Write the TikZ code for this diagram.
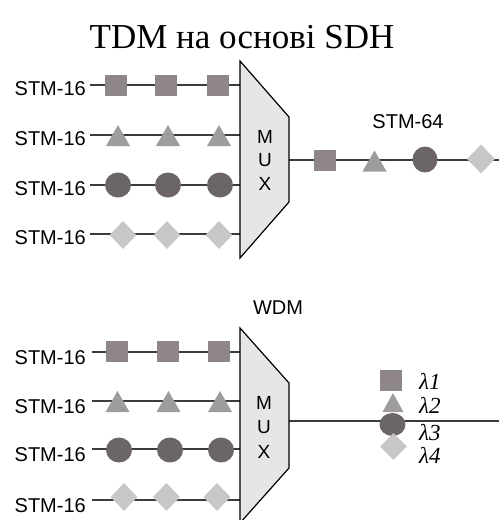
\documentclass[tikz,border=0pt]{standalone}
\usepackage{fontspec}
\setmainfont{Liberation Serif}
\newfontfamily\arialf{Liberation Sans}
\usetikzlibrary{shapes.geometric}
\definecolor{sqc}{HTML}{8E8689}
\definecolor{trc}{HTML}{9E9C9C}
\definecolor{cic}{HTML}{6C6568}
\definecolor{dic}{HTML}{C8C6C6}
\definecolor{muxc}{HTML}{E6E6E6}
\definecolor{linec}{HTML}{3C3C3C}
\begin{document}
\begin{tikzpicture}[x=1pt,y=-1pt,
  lab/.style={font=\arialf\fontsize{20}{24}\selectfont, inner sep=0, anchor=base east},
  sig/.style={draw=linec, line width=1.1pt},
  sq/.style={rectangle, fill=sqc, minimum width=22pt, minimum height=21pt, inner sep=0},
  trishape/.pic={\fill[trc] (-12,10.5) -- (12,10.5) -- (0,-10.5) -- cycle;},
  trismall/.pic={\fill[trc] (-10.5,9.5) -- (10.5,9.5) -- (0,-9.5) -- cycle;},
  cir/.style={ellipse, fill=cic, minimum width=26pt, minimum height=25pt, inner sep=0},
  dia/.style={diamond, fill=dic, minimum width=27pt, minimum height=28pt, inner sep=0},
  mux/.style={draw=black, fill=muxc, line width=1.2pt, line join=miter},
  muxt/.style={font=\arialf\fontsize{19}{22}\selectfont, inner sep=0},
  lam/.style={font=\itshape\fontsize{23}{26}\selectfont, inner sep=0, anchor=base west}]
\useasboundingbox (0,0) rectangle (499,520);

% title
\node[font=\fontsize{35}{40}\selectfont, inner sep=0, anchor=base] (title) at (242,48) {TDM на основі SDH};

% ---------------- TDM ----------------
\coordinate (t1a) at (240,61);
\coordinate (t1b) at (289,117);
\coordinate (t1c) at (289,202);
\coordinate (t1d) at (240,258);
\foreach \i/\y in {1/85,2/135,3/185,4/234}{
  \coordinate (ti\i) at (240,\y);
  \node[lab] (ta\i) at (86,\y+10) {STM-16};
  \draw[sig] ([xshift=4pt]ta\i.east |- ti\i) -- (ti\i);
}
\coordinate (to) at (289,160);
\coordinate (toe) at (499,160);
\draw[sig] (to) -- (toe);
\draw[mux] (t1a) -- (t1b) -- (t1c) -- (t1d) -- cycle;
\node[muxt] (tm) at (265,137) {M};
\node[muxt] (tu) at (265,160) {U};
\node[muxt] (tx) at (265,184) {X};

\node[sq] (ts1) at (116,85) {};
\node[sq] (ts2) at (166,85) {};
\node[sq] (ts3) at (218,85) {};
\coordinate (tt1) at (118,135.5);
\coordinate (tt2) at (168,135.5);
\coordinate (tt3) at (219,135.5);
\pic at (tt1) {trishape};
\pic at (tt2) {trishape};
\pic at (tt3) {trishape};
\node[cir] (tc1) at (118,185) {};
\node[cir] (tc2) at (168,185) {};
\node[cir] (tc3) at (220,185) {};
\node[dia] (td1) at (123,235) {};
\node[dia] (td2) at (167,235) {};
\node[dia] (td3) at (219,235) {};

\node[lab, anchor=center] (stm64) at (408,122) {STM-64};
\node[sq] (os) at (324.5,160) {};
\coordinate (ot) at (374.5,161);
\pic at (ot) {trishape};
\node[cir, minimum width=25pt, minimum height=26pt] (oc) at (425,159.5) {};
\node[dia, minimum width=28pt, minimum height=29pt] (od) at (481,159) {};

% ---------------- WDM ----------------
\node[lab, anchor=center] (wdm) at (278,308) {WDM};
\coordinate (w1a) at (240,328);
\coordinate (w1b) at (289,383);
\coordinate (w1c) at (289,468);
\coordinate (w1d) at (240,523);
\foreach \i/\y in {1/352,2/401,3/449,4/500}{
  \coordinate (wi\i) at (240,\y);
  \node[lab] (wa\i) at (86,\y+12) {STM-16};
  \draw[sig] ([xshift=6pt]wa\i.east |- wi\i) -- (wi\i);
}
\coordinate (wo) at (289,421);
\coordinate (woe) at (499,421);
\draw[sig] (wo) -- (woe);
\draw[mux] (w1a) -- (w1b) -- (w1c) -- (w1d) -- cycle;
\node[muxt] (wm) at (264,403) {M};
\node[muxt] (wu) at (264,427) {U};
\node[muxt] (wx) at (264,452) {X};

\node[sq] (ws1) at (116.5,351.5) {};
\node[sq] (ws2) at (167.5,351.5) {};
\node[sq] (ws3) at (219,351.5) {};
\coordinate (wt1) at (117.5,401.5);
\coordinate (wt2) at (168.5,401.5);
\coordinate (wt3) at (220,401.5);
\pic at (wt1) {trishape};
\pic at (wt2) {trishape};
\pic at (wt3) {trishape};
\node[cir] (wc1) at (119,450) {};
\node[cir] (wc2) at (170,450) {};
\node[cir] (wc3) at (221,450) {};
\node[dia] (wd1) at (124,497) {};
\node[dia] (wd2) at (166.5,497) {};
\node[dia] (wd3) at (217,497) {};

\node[sq, minimum width=22pt, minimum height=21pt] (ks) at (391,380.5) {};
\coordinate (kt) at (393,402.5);
\pic at (kt) {trismall};
\node[cir, minimum height=23pt] (kc) at (392.5,424.5) {};
\node[dia, minimum width=27pt, minimum height=27pt] (kd) at (393.5,446.5) {};

\node[lam] (l1) at (419,389) {λ1};
\node[lam] (l2) at (419,413) {λ2};
\node[lam] (l3) at (419,440) {λ3};
\node[lam] (l4) at (419,463) {λ4};
\end{tikzpicture}
\end{document}
